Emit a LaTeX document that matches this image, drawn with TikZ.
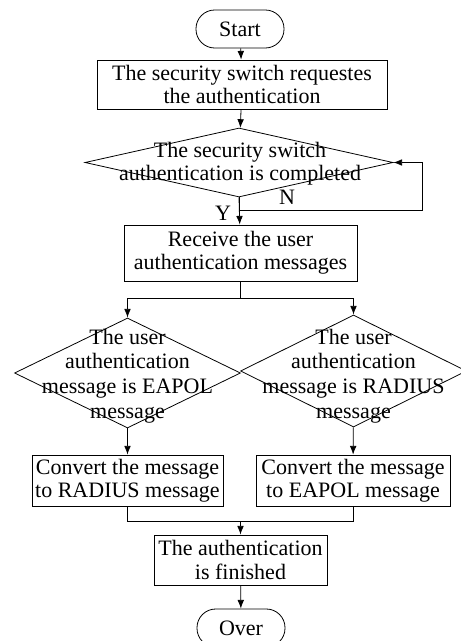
\documentclass[tikz,border=0pt]{standalone}
\usepackage{fontspec}
\setmainfont{Liberation Serif}
\usetikzlibrary{shapes.geometric,arrows.meta}

\begin{document}
\begin{tikzpicture}[x=0.75pt,y=-0.75pt,
	font=\fontsize{16.5}{17.5}\selectfont,
	terminal/.style={draw,rectangle,rounded corners=14pt,minimum width=66pt,minimum height=28.5pt,inner sep=2pt},
	process/.style={draw,rectangle,align=center,inner sep=2pt},
	decision/.style={draw,diamond,inner sep=0pt},
	arrow/.style={-{Latex[length=6.5pt,width=5pt]}},
	line width=0.6pt]
	\useasboundingbox (0,0) rectangle (460,641);
	
	% Start and first step
	\node[terminal] (start) at (240,29) {Start};
	\node[process,minimum width=217.5pt,minimum height=36.75pt] (req) at (242,84.5)
	{The security switch requestes\\the authentication};
	
	% Decision with the N loop
	\node[decision,minimum width=231pt,minimum height=51.75pt] (check) at (239,162.5) {};
	\node[align=center] (checktxt) at (240,163.5) {The security switch\\authentication is completed};
	\coordinate (loop) at (422,210);
	
	\node[process,minimum width=174.75pt,minimum height=42pt] (recv) at (240.5,253)
	{Receive the user\\authentication messages};
	
	% The two checks of the message
	\node[decision,minimum width=169.5pt,minimum height=82.5pt] (eapol) at (127.5,373) {};
	\node[decision,minimum width=169.5pt,minimum height=84pt] (radius) at (353.5,371) {};
	\node[align=center,font=\fontsize{16.5}{18.5}\selectfont] (eapoltxt) at (127.5,376)
	{The user\\authentication\\message is EAPOL\\message};
	\node[align=center,font=\fontsize{16.5}{18.5}\selectfont] (radiustxt) at (353.5,376)
	{The user\\authentication\\message is RADIUS\\message};
	\coordinate (split) at (240.5,298);
	
	\node[process,minimum width=143.25pt,minimum height=38.25pt] (toradius) at (127.5,480.5)
	{Convert the message\\to RADIUS message};
	\node[process,minimum width=145.5pt,minimum height=38.25pt] (toeapol) at (353,480.5)
	{Convert the message\\to EAPOL message};
	\coordinate (join) at (240.5,521);
	
	% End
	\node[process,minimum width=129.75pt,minimum height=37.5pt] (done) at (240.5,560)
	{The authentication\\is finished};
	\node[terminal] (over) at (241,628) {Over};
	
	% Connectors
	\draw[arrow] (start) -- (req);
	\draw[arrow] (req) -- (check);
	\draw[arrow] (check.south) -- (recv);
	\node (y) at (223,213) {Y};
	\draw[arrow] (check.south) |- (loop) |- (check.east);
	\node (n) at (287,197) {N};
	\draw (recv) -- (split);
	\draw[arrow] (split) -| (eapol.north);
	\draw[arrow] (split) -| (radius.north);
	\draw[arrow] (eapol) -- (toradius);
	\draw[arrow] (radius) -- (toeapol);
	\draw (toradius.south) |- (join);
	\draw (toeapol.south) |- (join);
	\draw[arrow] (join) -- (done);
	\draw[arrow] (done) -- (over);
\end{tikzpicture}
\end{document}
